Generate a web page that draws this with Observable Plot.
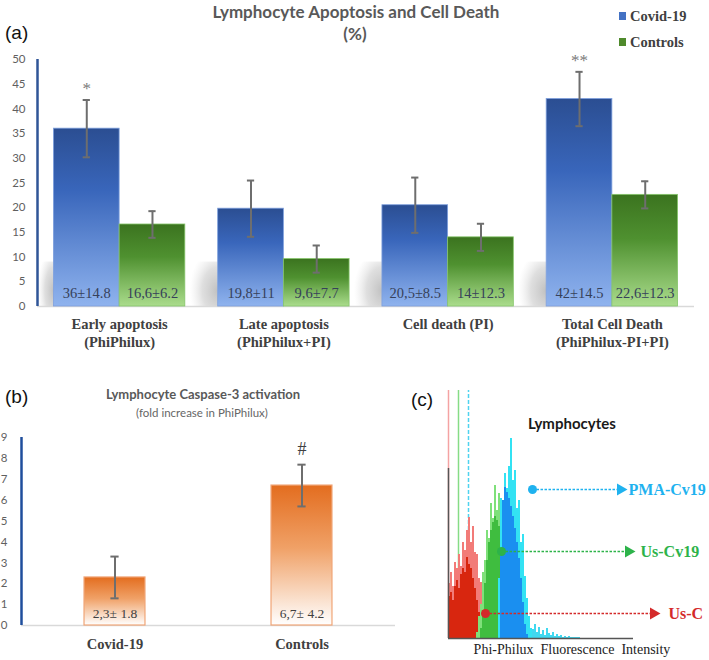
<!DOCTYPE html>
<html><head><meta charset="utf-8">
<script src="https://cdn.jsdelivr.net/npm/d3@7"></script>
<script src="https://cdn.jsdelivr.net/npm/@observablehq/plot@0.6"></script>
<style>
body{margin:0;background:#fff;}
#root{position:relative;width:709px;height:660px;overflow:hidden;background:#fff;}
.t{position:absolute;white-space:nowrap;line-height:1;}
.c{transform:translate(-50%,-50%);}
.l{transform:translate(0,-50%);}
</style></head><body><div id="root"></div>
<script>
// ---------- Panel (a) data ----------
const categories = ["Early apoptosis\n(PhiPhilux)", "Late apoptosis\n(PhiPhilux+PI)", "Cell death (PI)", "Total Cell Death\n(PhiPhilux-PI+PI)"];
const series = ["Covid-19", "Controls"];
const covidMean = [36, 19.8, 20.5, 42];
const covidErr = [5.8, 5.7, 5.6, 5.5];
const controlMean = [16.6, 9.6, 14, 22.6];
const controlErr = [2.7, 2.75, 2.75, 2.75];
const covidLabels = ["36±14.8", "19,8±11", "20,5±8.5", "42±14.5"];
const controlLabels = ["16,6±6.2", "9,6±7.7", "14±12.3", "22,6±12.3"];
const significanceA = ["*", "", "", "**"];
const yTicksA = [0, 5, 10, 15, 20, 25, 30, 35, 40, 45, 50];

// ---------- Panel (b) data ----------
const groupsB = ["Covid-19", "Controls"];
const caspaseMean = [2.3, 6.7];
const caspaseErr = [1.0, 1.0];
const caspaseLabels = ["2,3± 1.8", "6,7± 4.2"];
const caspaseSig = ["", "#"];
const yTicksB = [0, 1, 2, 3, 4, 5, 6, 7, 8, 9];

// ---------- Panel (c) data (histogram counts, bin width 2 channels) ----------
const binWidth = 2;
const redOuterStart = 0;
const redOuter = [55, 66, 52, 76, 70, 84, 72, 96, 88, 108, 121, 96, 112, 86, 84, 60, 56, 34, 28, 12, 9, 3, 2];
const redInnerStart = 0;
const redInner = [42, 46, 38, 52, 58, 50, 64, 70, 66, 81, 74, 70, 60, 50, 38, 26, 15, 7, 2];
const greenOuterStart = 28;
const greenOuter = [6, 22, 34, 66, 78, 108, 100, 135, 120, 153, 128, 145, 118, 124, 90, 80, 44, 30, 10, 4];
const greenInnerStart = 32;
const greenInner = [10, 28, 55, 78, 96, 108, 116, 122, 118, 112, 96, 76, 52, 30, 14, 5];
const cyanOuterStart = 50;
const cyanOuter = [60, 140, 128, 165, 150, 172, 200, 158, 168, 130, 138, 96, 104, 62, 40, 22, 10, 4];
const blueInnerStart = 52;
const blueInner = [90, 138, 151, 146, 140, 132, 122, 110, 96, 80, 60, 36, 14, 4];
const cyanTailStart = 84;
const cyanTail = [9, 14, 6, 11, 4, 8, 3, 10, 5, 3, 6, 2, 4, 2, 3, 1, 2, 1, 2, 1, 1, 1, 1, 1];
const gateChannels = [0, 10, 20];
const annLabels = ["PMA-Cv19", "Us-Cv19", "Us-C"];
const annLevel = [149, 87, 25];
const annDotX = [84, 53, 37];
const annTipX = [172, 180, 205];
const annTextX = [180, 192, 220];

const SERIF = "Liberation Serif, Times New Roman, serif";
const SANS = "Lato, Open Sans, sans-serif";
const root = document.getElementById("root");

const defs = `<svg width="0" height="0" style="position:absolute"><defs>
<linearGradient id="gBlue" x1="0" y1="0" x2="0" y2="1"><stop offset="0" stop-color="#2b4e92"/><stop offset="0.35" stop-color="#3966bb"/><stop offset="1" stop-color="#8fb3ee"/></linearGradient>
<linearGradient id="gGreen" x1="0" y1="0" x2="0" y2="1"><stop offset="0" stop-color="#3b731f"/><stop offset="0.4" stop-color="#4f9130"/><stop offset="1" stop-color="#aadc8c"/></linearGradient>
<linearGradient id="gOrange" x1="0" y1="0" x2="0" y2="1"><stop offset="0" stop-color="#e36d1f"/><stop offset="0.45" stop-color="#f0a167"/><stop offset="1" stop-color="#ffffff"/></linearGradient>
<radialGradient id="gShadow" cx="1" cy="0.65" r="0.95" fx="1" fy="0.65"><stop offset="0" stop-color="#bdbdbd" stop-opacity="0.95"/><stop offset="0.55" stop-color="#c9c9c9" stop-opacity="0.6"/><stop offset="1" stop-color="#e0e0e0" stop-opacity="0"/></radialGradient>
</defs></svg>`;
root.insertAdjacentHTML("beforeend", defs);

function place(svg, left, top) {
  Object.assign(svg.style, {position: "absolute", left: left + "px", top: top + "px", overflow: "visible"});
  root.appendChild(svg);
}
function txt(s, x, y, css, cls = "c") {
  const d = document.createElement("div");
  d.className = "t " + cls; d.textContent = s;
  d.style.left = x + "px"; d.style.top = y + "px";
  Object.assign(d.style, css); root.appendChild(d); return d;
}

// ---------- Panel (a) ----------
const rowsA = [];
categories.forEach((c, i) => {
  rowsA.push({i, j: 0, value: covidMean[i], err: covidErr[i], label: covidLabels[i], sig: significanceA[i]});
  rowsA.push({i, j: 1, value: controlMean[i], err: controlErr[i], label: controlLabels[i], sig: ""});
});
const bw = 0.4;
const cxA = d => d.i - bw / 2 + bw * d.j;
const errStyle = {stroke: "#6e6e6e", strokeWidth: 2};
const capA = 0.022;
const shadowDepth = 9;

const plotA = Plot.plot({
  width: 709, height: 320, marginTop: 19, marginBottom: 54, marginLeft: 37, marginRight: 15,
  x: {type: "linear", domain: [-0.5, 3.5], axis: null},
  y: {domain: [0, 50], axis: null},
  style: {background: "transparent"},
  marks: [
    Plot.rectY(categories.map((c, i) => i), {x1: i => Math.max(-0.5, i - 0.58), x2: i => i - 0.4, y: shadowDepth, fill: "url(#gShadow)"}),
    Plot.ruleY([0], {stroke: "#d9d9d9", strokeWidth: 1.5}),
    Plot.rectY(rowsA.filter(d => d.j === 0), {x1: d => cxA(d) - bw / 2, x2: d => cxA(d) + bw / 2, y: "value", fill: "url(#gBlue)", stroke: "#7d9fdc", strokeWidth: 0.8}),
    Plot.rectY(rowsA.filter(d => d.j === 1), {x1: d => cxA(d) - bw / 2, x2: d => cxA(d) + bw / 2, y: "value", fill: "url(#gGreen)", stroke: "#86c56a", strokeWidth: 0.8}),
    Plot.ruleX(rowsA, {x: cxA, y1: d => d.value - d.err, y2: d => d.value + d.err, ...errStyle}),
    Plot.ruleY(rowsA, {y: d => d.value + d.err, x1: d => cxA(d) - capA, x2: d => cxA(d) + capA, ...errStyle}),
    Plot.ruleY(rowsA, {y: d => d.value - d.err, x1: d => cxA(d) - capA, x2: d => cxA(d) + capA, ...errStyle}),
    Plot.text(rowsA, {x: cxA, y: 0, dy: -13, text: "label", fontFamily: SERIF, fontSize: 14.5, fill: "#36415a"}),
    Plot.text(rowsA.filter(d => d.sig), {x: cxA, y: d => d.value + d.err, dy: -11, text: "sig", fontFamily: SERIF, fontSize: 17, fill: "#7a7a7a"}),
    Plot.ruleX([-0.5], {y1: 0, y2: 50, stroke: "#2f5597", strokeWidth: 2.5}),
    Plot.axisY({ticks: yTicksA, tickSize: 0, tickPadding: 12, label: null, fontFamily: SANS, fontSize: 11.5, fill: "#5f5f5f"}),
    Plot.axisX({ticks: [0, 1, 2, 3], tickFormat: i => categories[i], tickSize: 0, tickPadding: 10, label: null, fontFamily: SERIF, fontWeight: "bold", fontSize: 14.5, lineHeight: 1.25, fill: "#404040"})
  ]
});
place(plotA, 0, 40);

txt("(a)", 5, 32, {fontFamily: "Liberation Sans, Arial, sans-serif", fontSize: "19px", color: "#111"}, "l");
txt("Lymphocyte Apoptosis and Cell Death", 356, 11, {fontFamily: SANS, fontWeight: "700", fontSize: "17px", color: "#595959"});
txt("(%)", 355, 33, {fontFamily: SANS, fontWeight: "700", fontSize: "17px", color: "#595959"});
[["#4472c4", series[0], 16], ["#4f8a2c", series[1], 42]].forEach(([col, name, y]) => {
  const sq = document.createElement("div");
  Object.assign(sq.style, {position: "absolute", left: "619px", top: (y - 4) + "px", width: "7px", height: "8px", background: col});
  root.appendChild(sq);
  txt(name, 630, y, {fontFamily: SERIF, fontWeight: "bold", fontSize: "14.5px", color: "#404040"}, "l");
});

// ---------- Panel (b) ----------
const rowsB = groupsB.map((g, i) => ({i, value: caspaseMean[i], err: caspaseErr[i], label: caspaseLabels[i], sig: caspaseSig[i]}));
const hbB = 0.163, capB = 0.022;
const plotB = Plot.plot({
  width: 400, height: 240, marginTop: 17, marginBottom: 35, marginLeft: 21, marginRight: 5,
  x: {type: "linear", domain: [-0.5, 1.5], axis: null},
  y: {domain: [0, 9], axis: null},
  style: {background: "transparent"},
  marks: [
    Plot.ruleY([0], {stroke: "#d9d9d9", strokeWidth: 1.5}),
    Plot.rectY(rowsB, {x1: d => d.i - hbB, x2: d => d.i + hbB, y: "value", fill: "url(#gOrange)", stroke: "#f0a577", strokeWidth: 1.2}),
    Plot.ruleX(rowsB, {x: "i", y1: d => d.value - d.err, y2: d => d.value + d.err, ...errStyle}),
    Plot.ruleY(rowsB, {y: d => d.value + d.err, x1: d => d.i - capB, x2: d => d.i + capB, ...errStyle}),
    Plot.ruleY(rowsB, {y: d => d.value - d.err, x1: d => d.i - capB, x2: d => d.i + capB, ...errStyle}),
    Plot.text(rowsB, {x: "i", y: 0, dy: -12, text: "label", fontFamily: SERIF, fontSize: 13.5, fill: "#404040"}),
    Plot.text(rowsB.filter(d => d.sig), {x: "i", y: d => d.value + d.err, dy: -15, text: "sig", fontFamily: SERIF, fontSize: 18, fill: "#404040"}),
    Plot.ruleX([-0.5], {y1: 0, y2: 9, stroke: "#1f4e9c", strokeWidth: 2.5}),
    Plot.axisY({ticks: yTicksB, tickSize: 0, tickPadding: 14, label: null, fontFamily: SANS, fontSize: 11.5, fill: "#5f5f5f"}),
    Plot.axisX({ticks: [0, 1], tickFormat: i => groupsB[i], tickSize: 0, tickPadding: 13, label: null, fontFamily: SERIF, fontWeight: "bold", fontSize: 14.5, fill: "#404040"})
  ]
});
place(plotB, 0, 420);
txt("(b)", 5, 396, {fontFamily: "Liberation Sans, Arial, sans-serif", fontSize: "19px", color: "#111"}, "l");
txt("Lymphocyte Caspase-3 activation", 203, 394, {fontFamily: SANS, fontWeight: "700", fontSize: "13px", color: "#595959"});
txt("(fold increase in PhiPhilux)", 202, 413, {fontFamily: SANS, fontSize: "11.5px", color: "#666"});

// ---------- Panel (c) ----------
const bins = (arr, start) => arr.map((v, k) => ({x1: start + k * binWidth, x2: start + (k + 1) * binWidth, y: v}));
const histMark = (arr, start, fill) => Plot.rectY(bins(arr, start), {x1: "x1", x2: "x2", y: "y", fill, shapeRendering: "crispEdges"});
const gateColors = ["#f4a3a3", "#86dc86", "#4fd3f0"];
const annColors = ["#1fb2ef", "#2db34a", "#d42a2a"];
const ann = annLabels.map((s, k) => ({s, y: annLevel[k], x0: annDotX[k], x1: annTipX[k], xt: annTextX[k], c: annColors[k]}));
const yTopC = 248, axisTopC = 170;
const plotC = Plot.plot({
  width: 339, height: 280, marginTop: 10, marginBottom: 22, marginLeft: 78, marginRight: 0,
  x: {type: "linear", domain: [0, 261], axis: null},
  y: {domain: [0, yTopC], axis: null},
  color: {type: "identity"},
  style: {background: "transparent"},
  marks: [
    Plot.ruleX([gateChannels[0]], {y1: 0, y2: yTopC, stroke: gateColors[0], strokeWidth: 1.5}),
    Plot.ruleX([gateChannels[1]], {y1: 0, y2: yTopC, stroke: gateColors[1], strokeWidth: 1.5}),
    Plot.ruleX([gateChannels[2]], {y1: 0, y2: yTopC, stroke: gateColors[2], strokeWidth: 1.5, strokeDasharray: "4,2"}),
    histMark(redOuter, redOuterStart, "#f27b78"),
    histMark(redInner, redInnerStart, "#d8260f"),
    histMark(greenOuter, greenOuterStart, "#7fe07a"),
    histMark(greenInner, greenInnerStart, "#3fbd3f"),
    histMark(cyanOuter, cyanOuterStart, "#33e2f3"),
    histMark(blueInner, blueInnerStart, "#1a8ff0"),
    histMark(cyanTail, cyanTailStart, "#40d8f0"),
    Plot.ruleX([0], {y1: 0, y2: axisTopC, stroke: "#555", strokeWidth: 1.5}),
    Plot.ruleY([0], {x1: 0, x2: 185, stroke: "#555", strokeWidth: 1.5}),
    Plot.link(ann, {x1: "x0", y1: "y", x2: "x1", y2: "y", stroke: "c", strokeWidth: 1.5, strokeDasharray: "2.5,1.5"}),
    Plot.dot(ann, {x: "x0", y: "y", r: 4.5, fill: "c"}),
    Plot.dot(ann, {x: "x1", y: "y", r: 4.5, symbol: "triangle", rotate: 90, fill: "c"}),
    Plot.text(ann, {x: "xt", y: "y", text: "s", fill: "c", textAnchor: "start", fontFamily: SERIF, fontWeight: "bold", fontSize: 16})
  ]
});
place(plotC, 370, 380);
txt("(c)", 411, 399, {fontFamily: "Liberation Sans, Arial, sans-serif", fontSize: "19px", color: "#111"}, "l");
txt("Lymphocytes", 528, 423, {fontFamily: SANS, fontWeight: "700", fontSize: "15px", color: "#1a1a1a"}, "l");
txt("Phi-Philux  Fluorescence  Intensity", 572, 650, {fontFamily: SERIF, fontSize: "14px", color: "#222", whiteSpace: "pre"});
</script></body></html>
